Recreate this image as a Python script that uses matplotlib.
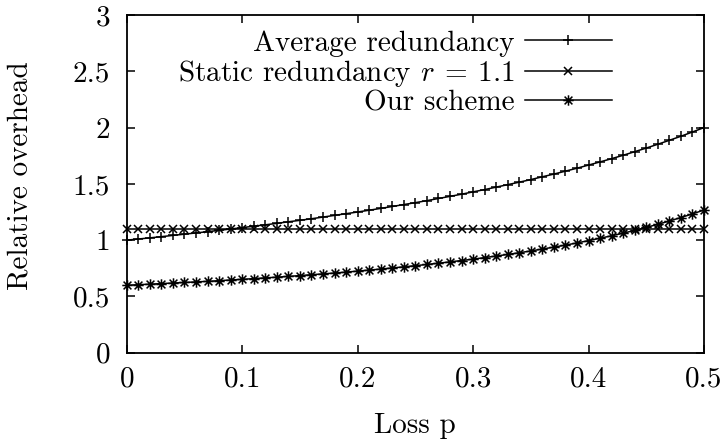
import numpy as np
import matplotlib
matplotlib.use("Agg")
import matplotlib.pyplot as plt
from matplotlib.path import Path

# ---- data ----
loss = [i / 100 for i in range(51)]
average_redundancy = [
    1.000, 1.010, 1.020, 1.031, 1.042, 1.053, 1.064, 1.075, 1.087, 1.099,
    1.111, 1.124, 1.136, 1.149, 1.163, 1.176, 1.190, 1.205, 1.220, 1.235,
    1.250, 1.266, 1.282, 1.299, 1.316, 1.333, 1.351, 1.370, 1.389, 1.408,
    1.429, 1.449, 1.471, 1.493, 1.515, 1.538, 1.563, 1.587, 1.613, 1.639,
    1.667, 1.695, 1.724, 1.754, 1.786, 1.818, 1.852, 1.887, 1.923, 1.961,
    2.000]
static_redundancy = [1.1] * 51
our_scheme = [
    0.600, 0.604, 0.609, 0.614, 0.619, 0.624, 0.629, 0.634, 0.640, 0.646,
    0.652, 0.658, 0.665, 0.671, 0.678, 0.685, 0.693, 0.700, 0.708, 0.716,
    0.725, 0.734, 0.743, 0.753, 0.763, 0.773, 0.784, 0.795, 0.807, 0.819,
    0.831, 0.845, 0.859, 0.873, 0.888, 0.904, 0.921, 0.938, 0.956, 0.975,
    0.996, 1.017, 1.039, 1.062, 1.087, 1.113, 1.141, 1.170, 1.201, 1.233,
    1.268]
labels = ["Average redundancy", r"Static redundancy $r\:=\:1.1$", "Our scheme"]
xticks = [0, 0.1, 0.2, 0.3, 0.4, 0.5]
xticklabels = ["0", "0.1", "0.2", "0.3", "0.4", "0.5"]
yticks = [0, 0.5, 1, 1.5, 2, 2.5, 3]
yticklabels = ["0", "0.5", "1", "1.5", "2", "2.5", "3"]
xlabel = "Loss p"
ylabel = "Relative overhead"

# ---- style ----
plt.rcParams["font.family"] = ["cmr10", "DejaVu Serif"]
plt.rcParams["mathtext.fontset"] = "cm"
plt.rcParams["axes.formatter.use_mathtext"] = True
FS = 21

fig = plt.figure(figsize=(7.24, 4.44), dpi=100)
ax = fig.add_axes([0.175, 0.2056, 0.9724 - 0.175, 0.9662 - 0.2056])

asterisk = Path(
    [(-1, 0), (1, 0), (0, -1), (0, 1), (-0.75, -0.75), (0.75, 0.75),
     (-0.75, 0.75), (0.75, -0.75)],
    [Path.MOVETO, Path.LINETO] * 4)

lw = 1.1
ms = 6.5
ax.plot(loss, average_redundancy, color="black", lw=lw, marker="+",
        ms=ms, mew=lw, clip_on=False, label=labels[0])
ax.plot(loss, static_redundancy, color="black", lw=lw, marker="x",
        ms=ms - 0.5, mew=lw, clip_on=False, label=labels[1])
ax.plot(loss, our_scheme, color="black", lw=lw, marker=asterisk,
        ms=ms + 1, mew=lw, mfc="none", clip_on=False, label=labels[2])

ax.set_xlim(0, 0.5)
ax.set_ylim(0, 3)
ax.set_xticks(xticks)
ax.set_xticklabels(xticklabels)
ax.set_yticks(yticks)
ax.set_yticklabels(yticklabels)
ax.tick_params(direction="in", length=6, width=1.1, top=True, right=True,
               labelsize=FS)
ax.tick_params(axis="x", pad=10)
ax.tick_params(axis="y", pad=12)
for s in ax.spines.values():
    s.set_linewidth(1.3)

ax.set_xlabel(xlabel, fontsize=FS, labelpad=14)
ax.set_ylabel(ylabel, fontsize=FS)
ax.yaxis.set_label_coords(-0.162, 0.523)

leg = ax.legend(loc="upper right", bbox_to_anchor=(0.841, 0.955),
                markerfirst=False, frameon=False, fontsize=FS,
                handlelength=3.0, handletextpad=0.35, labelspacing=0.035,
                borderpad=0, borderaxespad=0, numpoints=1)

fig.savefig("out.png", dpi=100)
